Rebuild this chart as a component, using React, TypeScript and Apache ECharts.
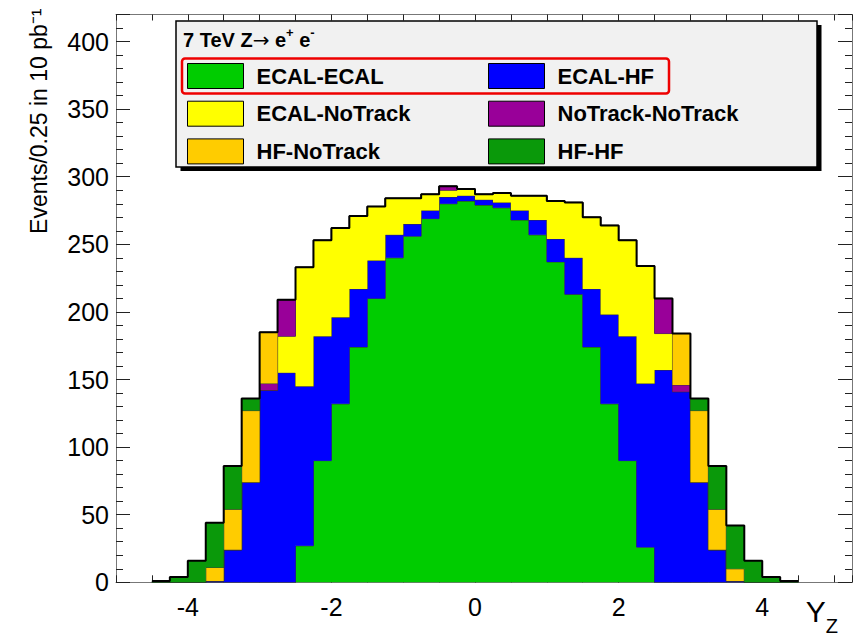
import React, { useEffect, useRef } from "react";
import * as echarts from "echarts";

// ---- data ----
const binLow = [
  -4.5, -4.25, -4, -3.75, -3.5, -3.25, -3, -2.75, -2.5, -2.25, -2, -1.75,
  -1.5, -1.25, -1, -0.75, -0.5, -0.25, 0, 0.25, 0.5, 0.75, 1, 1.25,
  1.5, 1.75, 2, 2.25, 2.5, 2.75, 3, 3.25, 3.5, 3.75, 4, 4.25,
];
const binWidth = 0.25;

const ecalEcal = [
  0, 0, 0, 0, 0, 0, 0, 0, 27, 90, 132, 174,
  210, 240, 256, 269, 280, 282, 279, 277, 268, 257, 237, 213,
  174, 132, 90, 26, 0, 0, 0, 0, 0, 0, 0, 0,
];
const ecalHf = [
  0, 0, 0, 1, 24, 74, 142, 155, 118, 92, 64, 43,
  28, 17, 9, 6, 5, 4, 4, 4, 7, 11, 17, 27,
  43, 66, 92, 121, 157, 141, 74, 24, 1, 0, 0, 0,
];
const ecalNoTrack = [
  0, 0, 0, 0, 0, 0, 0, 27, 88, 71, 66, 54,
  40, 27, 19, 12, 5, 5, 4, 7, 11, 18, 28, 41,
  53, 66, 71, 87, 27, 0, 0, 0, 0, 0, 0, 0,
];
const noTrackNoTrack = [
  0, 0, 0, 0, 0, 0, 5, 27, 0, 0, 0, 0,
  0, 0, 0, 0, 3, 0, 0, 0, 0, 0, 0, 0,
  0, 0, 0, 0, 26, 5, 0, 0, 0, 0, 0, 0,
];
const hfNoTrack = [
  0, 0, 0, 10, 30, 53, 38, 0, 0, 0, 0, 0,
  0, 0, 0, 0, 0, 0, 0, 0, 0, 0, 0, 0,
  0, 0, 0, 0, 0, 38, 53, 30, 9, 0, 0, 0,
];
const hfHf = [
  1, 4, 16, 33, 32, 9, 0, 0, 0, 0, 0, 0,
  0, 0, 0, 0, 0, 0, 0, 0, 0, 0, 0, 0,
  0, 0, 0, 0, 0, 0, 9, 32, 32, 16, 4, 1,
];

const layerNames = ["ECAL-ECAL", "ECAL-HF", "ECAL-NoTrack", "NoTrack-NoTrack", "HF-NoTrack", "HF-HF"];
const layerValues = [ecalEcal, ecalHf, ecalNoTrack, noTrackNoTrack, hfNoTrack, hfHf];
const layerColors = ["#00cc00", "#0000ff", "#ffff00", "#990099", "#ffcc00", "#0a990a"];

const legendLeftColumn = ["ECAL-ECAL", "ECAL-NoTrack", "HF-NoTrack"];
const legendRightColumn = ["ECAL-HF", "NoTrack-NoTrack", "HF-HF"];

const xMajorLabels = [-4, -2, 0, 2, 4];
const yMajorLabels = [0, 50, 100, 150, 200, 250, 300, 350, 400];

const headerText = "{t|7 TeV Z}{arr|\u2192}{t| e}{s|+}{t| e}{s|-}";
const yTitle = "Events/0.25 in 10 pb\u207b\u00b9";

// ---- helpers ----
// points are [value, binEdge] so that the stack is computed on the value (y) dimension
function stepData(vals: number[]) {
  const pts: number[][] = binLow.map((x, i) => [vals[i], x]);
  pts.push([vals[vals.length - 1], binLow[binLow.length - 1] + binWidth]);
  return pts;
}

const FONT = "'Liberation Sans', Arial, Helvetica, sans-serif";

export default function App() {
  const ref = useRef<HTMLDivElement>(null);

  useEffect(() => {
    document.body.style.margin = "0";
    if (!ref.current) return;
    const chart = echarts.init(ref.current, null, { renderer: "svg" });

    const tickColor = "#222";
    const frameColor = "#777";

    const series = layerNames.map((name, k) => ({
      name,
      type: "line",
      stack: "total",
      step: "end",
      xAxisIndex: 0,
      yAxisIndex: 0,
      dimensions: ["count", "yz"],
      encode: { x: 1, y: 0 },
      symbol: "none",
      showSymbol: false,
      silent: true,
      itemStyle: { color: layerColors[k] },
      lineStyle: {
        color: k === layerNames.length - 1 ? "#000" : "#333",
        width: k === layerNames.length - 1 ? 2 : 1,
      },
      areaStyle: { color: layerColors[k], opacity: 1 },
      emphasis: { disabled: true },
      data: stepData(layerValues[k]),
      z: 2 + k,
    }));

    const legendCommon = {
      orient: "vertical",
      itemWidth: 56,
      itemHeight: 25,
      itemGap: 11.7,
      padding: 0,
      icon: "rect",
      selectedMode: false,
      z: 30,
      itemStyle: { borderColor: "#000", borderWidth: 1 },
      textStyle: {
        fontSize: 22,
        fontWeight: "bold",
        color: "#000",
        fontFamily: FONT,
        padding: [0, 0, 0, 8],
      },
    };

    const option: any = {
      animation: false,
      backgroundColor: "#ffffff",
      textStyle: { fontFamily: FONT },
      grid: {
        left: 116,
        right: 3,
        top: 14.5,
        bottom: 60.7,
        containLabel: false,
        outerBoundsMode: "none",
      },
      legend: [
        { ...legendCommon, data: legendLeftColumn, left: 187, top: 63 },
        { ...legendCommon, data: legendRightColumn, left: 488, top: 63 },
      ],
      xAxis: [
        {
          type: "value",
          position: "bottom",
          min: -5,
          max: 5.25,
          interval: 0.5,
          axisLine: { show: true, onZero: false, lineStyle: { color: frameColor, width: 1 } },
          axisTick: { show: true, inside: true, length: 7, lineStyle: { color: tickColor, width: 1 } },
          axisLabel: {
            show: true,
            customValues: xMajorLabels,
            margin: 12,
            fontSize: 25,
            color: "#000",
            fontFamily: FONT,
          },
          splitLine: { show: false },
          name: "{a|Y}{b|Z}",
          nameLocation: "end",
          nameGap: -14,
          nameMoveOverlap: false,
          nameTextStyle: {
            align: "right",
            verticalAlign: "top",
            padding: [14, 0, 0, 0],
            rich: {
              a: { fontSize: 30, color: "#000", fontFamily: FONT, lineHeight: 40, verticalAlign: "top" },
              b: { fontSize: 20, color: "#000", fontFamily: FONT, lineHeight: 22, verticalAlign: "bottom" },
            },
          },
        },
        {
          type: "value",
          position: "bottom",
          min: -5,
          max: 5.25,
          axisLine: { show: false, onZero: false },
          axisTick: {
            show: true,
            inside: true,
            length: 15,
            customValues: xMajorLabels,
            lineStyle: { color: tickColor, width: 1 },
          },
          axisLabel: { show: false },
          splitLine: { show: false },
        },
        {
          type: "value",
          position: "top",
          min: -5,
          max: 5.25,
          interval: 0.5,
          axisLine: { show: true, onZero: false, lineStyle: { color: frameColor, width: 1 } },
          axisTick: { show: true, inside: true, length: 6, lineStyle: { color: tickColor, width: 1 } },
          axisLabel: { show: false },
          splitLine: { show: false },
        },
      ],
      yAxis: [
        {
          type: "value",
          position: "left",
          min: 0,
          max: 420,
          interval: 50,
          axisLine: { show: true, onZero: false, lineStyle: { color: frameColor, width: 1 } },
          axisTick: { show: true, inside: true, length: 14, lineStyle: { color: tickColor, width: 1 } },
          axisLabel: {
            show: true,
            customValues: yMajorLabels,
            margin: 7,
            fontSize: 25,
            color: "#000",
            fontFamily: FONT,
          },
          splitLine: { show: false },
          name: yTitle,
          nameLocation: "end",
          nameRotate: 90,
          nameGap: 6,
          nameMoveOverlap: false,
          nameTextStyle: {
            fontSize: 23,
            color: "#000",
            fontFamily: FONT,
            align: "right",
            verticalAlign: "bottom",
            padding: [0, 0, 66, 0],
          },
        },
        {
          type: "value",
          position: "left",
          min: 0,
          max: 420,
          interval: 10,
          axisLine: { show: false, onZero: false },
          axisTick: { show: true, inside: true, length: 7, lineStyle: { color: tickColor, width: 1 } },
          axisLabel: { show: false },
          splitLine: { show: false },
        },
        {
          type: "value",
          position: "right",
          min: 0,
          max: 420,
          interval: 50,
          axisLine: { show: true, onZero: false, lineStyle: { color: frameColor, width: 1 } },
          axisTick: { show: true, inside: true, length: 14, lineStyle: { color: tickColor, width: 1 } },
          axisLabel: { show: false },
          splitLine: { show: false },
        },
        {
          type: "value",
          position: "right",
          min: 0,
          max: 420,
          interval: 10,
          axisLine: { show: false, onZero: false },
          axisTick: { show: true, inside: true, length: 7, lineStyle: { color: tickColor, width: 1 } },
          axisLabel: { show: false },
          splitLine: { show: false },
        },
      ],
      graphic: [
        {
          type: "rect",
          z: 10,
          silent: true,
          shape: { x: 180.5, y: 25, width: 641, height: 146 },
          style: { fill: "#000" },
        },
        {
          type: "rect",
          z: 11,
          silent: true,
          shape: { x: 176, y: 21, width: 641, height: 146 },
          style: { fill: "#f1f1f1", stroke: "#000", lineWidth: 1.5 },
        },
        {
          type: "rect",
          z: 12,
          silent: true,
          shape: { x: 182, y: 58.5, width: 487, height: 35, r: 3 },
          style: { fill: "none", stroke: "#ee0000", lineWidth: 2.5 },
        },
        {
          type: "text",
          z: 12,
          silent: true,
          x: 183,
          y: 26,
          style: {
            text: headerText,
            fill: "#000",
            rich: {
              t: { fontSize: 20, fontWeight: "bold", fontFamily: FONT, fill: "#000", lineHeight: 24, verticalAlign: "bottom" },
              arr: { fontSize: 20, fontFamily: "'DejaVu Sans', sans-serif", fill: "#000", lineHeight: 24, verticalAlign: "bottom" },
              s: { fontSize: 13, fontWeight: "bold", fontFamily: FONT, fill: "#000", lineHeight: 24, verticalAlign: "top" },
            },
          },
        },
      ],
      series,
    };

    chart.setOption(option);
    return () => {
      chart.dispose();
    };
  }, []);

  return <div ref={ref} style={{ width: 855, height: 643 }} />;
}
